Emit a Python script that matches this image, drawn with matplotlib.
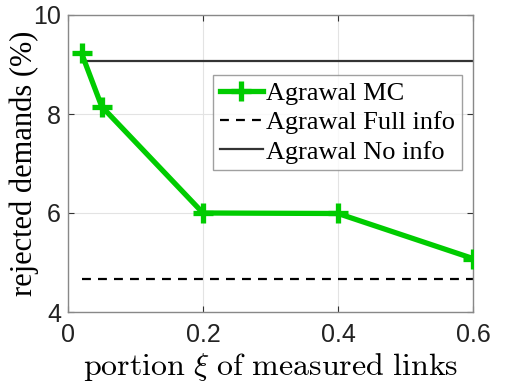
import matplotlib
matplotlib.use('Agg')
import matplotlib.pyplot as plt

# data
xi = [0.02, 0.05, 0.2, 0.4, 0.6]
mc = [9.23, 8.15, 6.0, 5.99, 5.08]
full_x = [0.02, 0.6]
full_info = [4.67, 4.67]
no_x = [0.02, 0.6]
no_info = [9.07, 9.07]

xticks = [0, 0.2, 0.4, 0.6]
xticklabels = ['0', '0.2', '0.4', '0.6']
yticks = [4, 6, 8, 10]

plt.rcParams['mathtext.fontset'] = 'cm'

fig = plt.figure(figsize=(5.29, 3.85), dpi=100)
ax = fig.add_axes([68 / 529, 1 - 312 / 385, 405 / 529, 297 / 385])

ax.plot(xi, mc, color='#00cc00', lw=3.8, marker='+', ms=14, mew=3.8,
        label='Agrawal MC', zorder=3)
ax.plot(full_x, full_info, color='black', lw=1.6, ls=(0, (4, 3.2)),
        label='Agrawal Full info')
ax.plot(no_x, no_info, color='#333333', lw=1.6, label='Agrawal No info')

ax.set_xlim(0, 0.6)
ax.set_ylim(4, 10)
ax.set_xticks(xticks)
ax.set_xticklabels(xticklabels)
ax.set_yticks(yticks)
ax.grid(True, color='#e3e3e3', lw=0.8)
ax.set_axisbelow(True)
ax.tick_params(direction='in', top=True, right=True, length=4, width=0.8,
               color='#333333', labelsize=18, labelcolor='#222222')
ax.tick_params(axis='x', pad=8)
ax.tick_params(axis='y', pad=5)
for lab in ax.get_xticklabels() + ax.get_yticklabels():
    lab.set_family('Liberation Sans')
for s in ax.spines.values():
    s.set_color('#888888')
    s.set_linewidth(1.0)

ax.set_xlabel(r'$\mathrm{portion}\ \xi\ \mathrm{of\ measured\ links}$',
              fontsize=23, labelpad=3)
ax.set_ylabel('rejected demands (%)', family='Liberation Serif', fontsize=22,
              labelpad=-4)

leg = ax.legend(loc='upper left', bbox_to_anchor=(145 / 405, 1 - 60 / 297),
                prop={'family': 'Liberation Serif', 'size': 19},
                frameon=True, fancybox=False, handlelength=1.65,
                handletextpad=0.12, borderpad=0.25, labelspacing=0.22,
                borderaxespad=0)
leg.get_frame().set_edgecolor('#888888')
leg.get_frame().set_linewidth(1.0)

fig.savefig('out.png', dpi=100)
